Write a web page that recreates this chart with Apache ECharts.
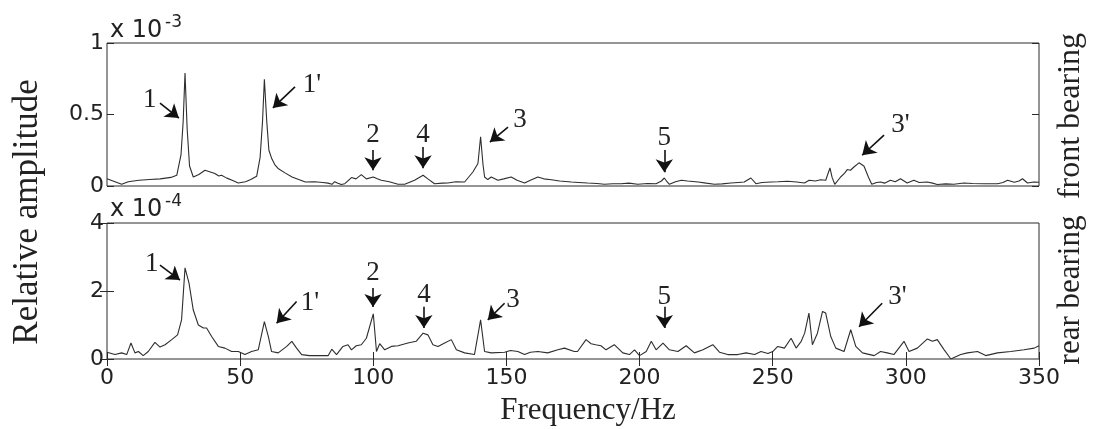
<!DOCTYPE html>
<html>
<head>
<meta charset="utf-8">
<script src="https://cdn.jsdelivr.net/npm/echarts@6/dist/echarts.min.js"></script>
<style>html,body{margin:0;padding:0;background:#fff}#c{width:1093px;height:429px}</style>
</head>
<body>
<div id="c"></div>
<script>
// ---- data (frequency in Hz, amplitude in units of the axis multiplier) ----
var freqTop = [0,3,5.5,8,12,16,20,24,26.2,27.8,28.6,29.3,30.1,31,32.4,34.5,36.8,38.5,40.5,42,43,45,47,49.3,52,54,56.2,57.5,58.4,59.1,60,60.8,61.9,63,64.4,67,69.5,72,74.5,78,81,83,84.5,85.5,86.7,88,89.3,91.8,93.5,95.5,97.4,100,101.5,103,106,109.3,111.8,115.5,118.7,120.5,123,126,128,131,134.3,137.4,139.3,140.3,141.2,141.8,143,144.3,146.8,149,151.8,154,156.8,159,161.8,164,166.9,170,174.4,177,180.5,184,186.8,190,193,196,199.3,203,206.2,208.2,209.3,210.3,211.2,213.5,215.7,218,222,225,228.1,231,234.3,237,239.3,241.8,243.7,246,249.4,252,255.6,259,261.9,263.7,264.2,266,268,269.9,271.5,272.3,273.3,275.5,277,278,279.2,280.5,282.4,283.4,284.3,286,287.2,289,290.5,292,294.2,296,298,300.5,303,305,308,310,311.8,315,318,321.8,325,329.4,334.4,336.5,338.2,340.7,342.5,343.8,345.7,348,350];
var ampTop  = [0.051,0.03,0.012,0.03,0.04,0.045,0.05,0.06,0.075,0.22,0.45,0.79,0.4,0.14,0.063,0.08,0.11,0.1,0.087,0.07,0.075,0.055,0.04,0.021,0.03,0.045,0.068,0.2,0.45,0.747,0.45,0.25,0.19,0.15,0.12,0.09,0.063,0.045,0.028,0.03,0.025,0.02,0.012,0.03,0.02,0.01,0.016,0.059,0.05,0.08,0.05,0.063,0.05,0.04,0.03,0.012,0.012,0.04,0.075,0.05,0.016,0.02,0.021,0.03,0.028,0.098,0.157,0.344,0.15,0.063,0.045,0.063,0.04,0.05,0.063,0.04,0.021,0.04,0.063,0.05,0.044,0.035,0.028,0.025,0.021,0.018,0.012,0.016,0.016,0.02,0.012,0.018,0.016,0.035,0.056,0.03,0.012,0.03,0.04,0.035,0.028,0.02,0.012,0.015,0.021,0.025,0.028,0.056,0.016,0.025,0.028,0.03,0.033,0.028,0.021,0.04,0.028,0.035,0.044,0.04,0.126,0.06,0.012,0.063,0.09,0.115,0.11,0.133,0.162,0.15,0.138,0.06,0.012,0.025,0.028,0.02,0.04,0.03,0.051,0.021,0.04,0.025,0.028,0.02,0.01,0.015,0.012,0.021,0.018,0.016,0.016,0.025,0.04,0.026,0.035,0.051,0.021,0.028,0.026];

var freqBot = [0,0.5,3,5.5,7.4,9,10.5,11.8,13.6,15.5,18,19.9,21.8,24.3,26.5,28,29.3,30.8,32.4,34.3,36.2,37.4,39.3,41.8,44.3,46.8,49.3,51.8,54.3,56.8,59.1,60.6,61.8,64.3,67.5,69.4,71.2,73.1,76,79.4,83.1,84.4,86.2,88.6,90.5,91.8,93.6,95.5,97.4,100,101.2,102.4,104.3,106.8,109.3,113,116.1,118.7,120.5,122.4,124.3,126.8,129.3,131.2,134.3,138,140.3,141.8,144.3,149.3,151.5,154.3,156.8,159,161.8,165.5,169.3,171.8,175.5,176.7,179.9,181.8,183.5,185.5,187.4,190.5,193.7,196.2,198.1,200,202.5,204.4,206.2,208.8,211.2,214.4,217.5,220.6,223.8,227.5,230,233.1,236.9,240,243.2,245.6,248.2,250,251.9,254.4,256.9,258.8,260.7,262,263.6,264.9,266.8,268.7,269.9,271.8,273.7,276.8,279.3,281.2,283.7,288.1,290.5,293,295.5,299.3,301.2,304.3,308.1,310,311.8,314.4,316.9,320.6,323.1,326.9,330,334.4,339.4,344.4,348.2,350];
var ampBot  = [0.2,0.18,0.13,0.18,0.13,0.47,0.18,0.22,0.1,0.22,0.49,0.35,0.42,0.57,0.71,1.15,2.68,2.23,1.44,1.0,0.91,0.91,0.66,0.37,0.32,0.22,0.22,0.13,0.22,0.27,1.1,0.66,0.22,0.18,0.37,0.52,0.32,0.13,0.1,0.1,0.1,0.29,0.13,0.37,0.42,0.27,0.39,0.42,0.61,1.33,0.22,0.45,0.27,0.37,0.39,0.47,0.52,0.76,0.71,0.42,0.37,0.47,0.57,0.27,0.18,0.13,1.15,0.22,0.18,0.2,0.25,0.22,0.13,0.2,0.22,0.18,0.27,0.32,0.22,0.22,0.57,0.45,0.42,0.39,0.27,0.42,0.18,0.13,0.27,0.1,0.22,0.52,0.27,0.47,0.27,0.22,0.39,0.18,0.27,0.42,0.2,0.13,0.13,0.18,0.13,0.22,0.16,0.22,0.37,0.32,0.61,0.32,0.52,0.76,1.35,0.42,0.76,1.40,1.35,0.66,0.32,0.22,0.86,0.37,0.18,0.1,0.22,0.18,0.13,0.52,0.22,0.32,0.59,0.52,0.57,0.27,0.0,0.13,0.18,0.22,0.1,0.18,0.22,0.27,0.32,0.39];

var xTicks = [0, 50, 100, 150, 200, 250, 300, 350];
var yTicksTop = [0, 0.5, 1];
var yTicksBot = [0, 2, 4];

// annotations: arrows [fromF, fromA, toF, toA]; labels [text, f, a]
var arrowsTop = [[19.9,0.58,27,0.475],[70.6,0.693,62.3,0.546],[99.9,0.251,99.9,0.11],[118.7,0.272,118.7,0.124],[150.6,0.412,143.8,0.307],[209.3,0.251,209.3,0.096],[291.8,0.356,283.6,0.215]];
var labelsTop = [['1',16.1,0.6],["1'",77,0.707],['2',99.9,0.356],['4',118.7,0.356],['3',155.1,0.461],['5',209.3,0.335],["3'",298,0.426]];
var arrowsBot = [[19.9,2.76,27.4,2.32],[71.2,1.69,63.7,1.05],[99.9,2.09,99.9,1.53],[119,1.54,119,0.91],[149.3,1.64,143,1.15],[209.3,1.54,209.3,0.91],[291.1,1.64,282.4,0.95]];
var labelsBot = [['1',16.8,2.81],["1'",76.2,1.64],['2',99.9,2.52],['4',119,1.88],['3',152.5,1.74],['5',209.3,1.83],["3'",296.8,1.83]];

// ---- build ----
function pairs(xs, ys){ return xs.map(function(x,i){ return [x, ys[i]]; }); }
var ink = '#2a2a2a';
var sans = 'DejaVu Sans';
var serif = 'Liberation Serif';

function mkArrows(a){ return a.map(function(r){ return [{coord:[r[0],r[1]], symbol:'none'},{coord:[r[2],r[3]], symbol:'arrow', symbolSize:13}]; }); }
function mkLabels(l){ return l.map(function(r){ return {name:r[0], coord:[r[1],r[2]]}; }); }

function xAx(gi, pos, showLabel){
  return {type:'value', gridIndex:gi, position:pos, min:xTicks[0], max:xTicks[xTicks.length-1], interval:xTicks[1]-xTicks[0],
    axisLine:{show:false}, splitLine:{show:false},
    axisTick:{show:showLabel!==null, inside:true, length:7, lineStyle:{color:ink}},
    axisLabel:{show:!!showLabel, margin:8, color:'#222', fontFamily:sans, fontSize:22}};
}
function yAx(gi, pos, ticks, showLabel){
  return {type:'value', gridIndex:gi, position:pos, min:ticks[0], max:ticks[ticks.length-1], interval:ticks[1]-ticks[0],
    axisLine:{show:false}, splitLine:{show:false},
    axisTick:{show:true, inside:true, length:7, lineStyle:{color:ink}},
    axisLabel:{show:showLabel, margin:3, color:'#222', fontFamily:sans, fontSize:22}};
}

var markLineStyle = {symbol:['none','arrow'], symbolSize:13, silent:true, animation:false,
  lineStyle:{color:'#111', width:1.6, type:'solid'}, itemStyle:{color:'#111'}, label:{show:false}};
var markPointStyle = {symbol:'circle', symbolSize:1, silent:true, animation:false, itemStyle:{color:'rgba(0,0,0,0)'},
  label:{show:true, position:'inside', formatter:'{b}', color:'#222', fontFamily:serif, fontSize:27}};

var option = {
  animation:false,
  backgroundColor:'#fff',
  grid:[
    {left:107, top:43, width:932, height:143, show:true, borderColor:ink, borderWidth:1},
    {left:107, top:223, width:932, height:136, show:true, borderColor:ink, borderWidth:1}
  ],
  xAxis:[ xAx(0,'bottom',null), xAx(1,'bottom',true), xAx(1,'top',false) ],
  yAxis:[ yAx(0,'left',yTicksTop,true), yAx(0,'right',yTicksTop,false), yAx(1,'left',yTicksBot,true), yAx(1,'right',yTicksBot,false) ],
  series:[
    {type:'line', name:'front bearing', xAxisIndex:0, yAxisIndex:0, data:pairs(freqTop, ampTop), showSymbol:false,
     lineStyle:{color:'#2e2e2e', width:1.1}, itemStyle:{color:'#2e2e2e'},
     markLine:Object.assign({data:mkArrows(arrowsTop)}, markLineStyle),
     markPoint:Object.assign({data:mkLabels(labelsTop)}, markPointStyle)},
    {type:'line', name:'rear bearing', xAxisIndex:1, yAxisIndex:2, data:pairs(freqBot, ampBot), showSymbol:false,
     lineStyle:{color:'#2e2e2e', width:1.1}, itemStyle:{color:'#2e2e2e'},
     markLine:Object.assign({data:mkArrows(arrowsBot)}, markLineStyle),
     markPoint:Object.assign({data:mkLabels(labelsBot)}, markPointStyle)}
  ],
  graphic:[
    {type:'text', x:110, y:43, style:{text:'x 10', fontFamily:sans, fontSize:24, fill:'#222', textAlign:'left', textVerticalAlign:'bottom'}},
    {type:'text', x:165, y:31, style:{text:'-3', fontFamily:sans, fontSize:17, fill:'#222', textAlign:'left', textVerticalAlign:'bottom'}},
    {type:'text', x:110, y:222, style:{text:'x 10', fontFamily:sans, fontSize:24, fill:'#222', textAlign:'left', textVerticalAlign:'bottom'}},
    {type:'text', x:165, y:210, style:{text:'-4', fontFamily:sans, fontSize:17, fill:'#222', textAlign:'left', textVerticalAlign:'bottom'}},
    {type:'text', x:28, y:212, rotation:Math.PI/2, style:{text:'Relative amplitude', fontFamily:serif, fontSize:35, fill:'#222', textAlign:'center', textVerticalAlign:'middle'}},
    {type:'text', x:1071, y:116, rotation:Math.PI/2, style:{text:'front bearing', fontFamily:serif, fontSize:32, fill:'#222', textAlign:'center', textVerticalAlign:'middle'}},
    {type:'text', x:1071, y:290, rotation:Math.PI/2, style:{text:'rear bearing', fontFamily:serif, fontSize:31, fill:'#222', textAlign:'center', textVerticalAlign:'middle'}},
    {type:'text', x:588, y:411, style:{text:'Frequency/Hz', fontFamily:serif, fontSize:31, fill:'#222', textAlign:'center', textVerticalAlign:'middle'}}
  ]
};
var chart = echarts.init(document.getElementById('c'), null, {renderer:'canvas'});
chart.setOption(option);
</script>
</body>
</html>
